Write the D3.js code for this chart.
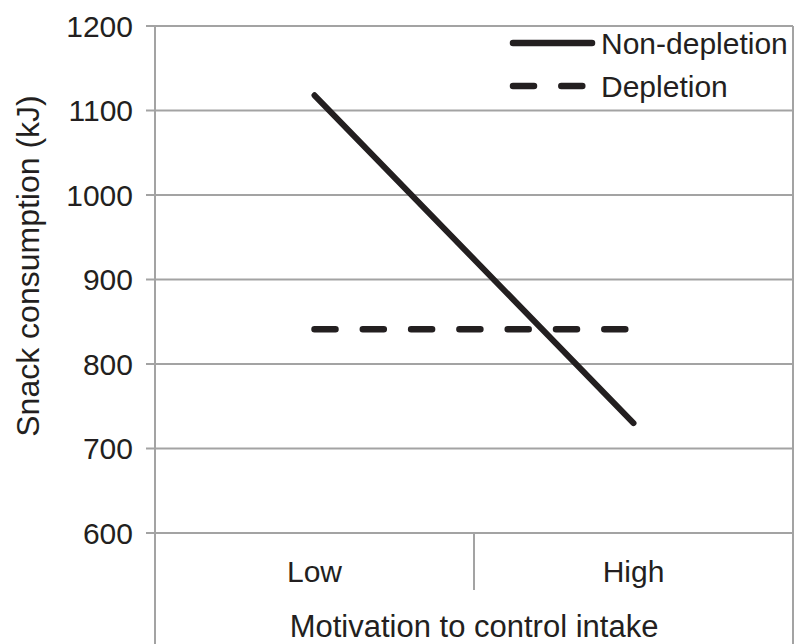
<!DOCTYPE html>
<html>
<head>
<meta charset="utf-8">
<script src="https://cdn.jsdelivr.net/npm/d3@7"></script>
<style>
  body { margin: 0; background: #fff; }
  text { font-family: "Liberation Sans", Arial, sans-serif; fill: #231f20; }
</style>
</head>
<body>
<div class="chart-container"></div>
<script>
/*** DATA ***/
const categories = ['Low', 'High'];
const nonDepletion = [1118, 730];
const depletion = [841, 841];
const yTicks = [600, 700, 800, 900, 1000, 1100, 1200];
const seriesNames = ['Non-depletion', 'Depletion'];

/*** DRAW CHART ***/
const width = 795, height = 644;
const margin = { top: 26, left: 155, right: 2, bottom: 111 };
const innerW = width - margin.left - margin.right;
const innerH = height - margin.top - margin.bottom;
const gridColor = '#a3a3a3';
const ink = '#231f20';
const fontSize = '30px';

const svg = d3.select('.chart-container')
  .append('svg')
  .attr('width', width)
  .attr('height', height);

const g = svg.append('g')
  .attr('transform', `translate(${margin.left}, ${margin.top})`);

const x = d3.scaleBand()
  .domain(categories)
  .range([0, innerW]);

const y = d3.scaleLinear()
  .domain([600, 1200])
  .range([innerH, 0]);

// gridlines + y ticks
g.selectAll('.grid')
  .data(yTicks)
  .join('line')
  .attr('class', 'grid')
  .attr('x1', -9)
  .attr('x2', innerW)
  .attr('y1', d => y(d))
  .attr('y2', d => y(d))
  .style('stroke', gridColor)
  .style('stroke-width', 2);

g.selectAll('.ylabel')
  .data(yTicks)
  .join('text')
  .attr('class', 'ylabel')
  .attr('x', -22)
  .attr('y', d => y(d))
  .attr('dy', '0.36em')
  .attr('text-anchor', 'end')
  .style('font-size', fontSize)
  .text(d => d);

// left and right frame lines run to bottom of the picture
[0, innerW].forEach(px => {
  g.append('line')
    .attr('x1', px).attr('x2', px)
    .attr('y1', 0).attr('y2', height - margin.top)
    .style('stroke', gridColor)
    .style('stroke-width', 2);
});

// category divider tick
g.append('line')
  .attr('x1', x('High')).attr('x2', x('High'))
  .attr('y1', innerH).attr('y2', innerH + 57)
  .style('stroke', gridColor)
  .style('stroke-width', 2);

g.selectAll('.xlabel')
  .data(categories)
  .join('text')
  .attr('class', 'xlabel')
  .attr('x', d => x(d) + x.bandwidth() / 2)
  .attr('y', innerH + 49)
  .attr('text-anchor', 'middle')
  .style('font-size', fontSize)
  .text(d => d);

// axis titles
svg.append('text')
  .attr('x', margin.left + innerW / 2)
  .attr('y', 637)
  .attr('text-anchor', 'middle')
  .style('font-size', '31px')
  .text('Motivation to control intake');

svg.append('text')
  .attr('transform', 'translate(39, 266) rotate(-90)')
  .attr('text-anchor', 'middle')
  .style('font-size', '32px')
  .text('Snack consumption (kJ)');

// lines
const line = d3.line()
  .x((d, i) => x(categories[i]) + x.bandwidth() / 2)
  .y(d => y(d));

g.append('path')
  .datum(depletion)
  .attr('d', line)
  .style('fill', 'none')
  .style('stroke', ink)
  .style('stroke-width', 6.5)
  .style('stroke-linecap', 'round')
  .style('stroke-dasharray', '21 27.3');

g.append('path')
  .datum(nonDepletion)
  .attr('d', line)
  .style('fill', 'none')
  .style('stroke', ink)
  .style('stroke-width', 6)
  .style('stroke-linecap', 'round');

// LEGEND
const legend = svg.append('g')
  .attr('transform', 'translate(513, 43)');

seriesNames.forEach((name, i) => {
  const row = legend.append('g').attr('transform', `translate(0, ${i * 43})`);
  row.append('line')
    .attr('x1', 0).attr('x2', i === 0 ? 79 : 72)
    .attr('y1', 0).attr('y2', 0)
    .style('stroke', ink)
    .style('stroke-width', 6.5)
    .style('stroke-linecap', 'round')
    .style('stroke-dasharray', i === 0 ? null : '21 27.3');
  row.append('text')
    .attr('x', 88)
    .attr('y', 0)
    .attr('dy', '0.36em')
    .style('font-size', fontSize)
    .text(name);
});
</script>
</body>
</html>
